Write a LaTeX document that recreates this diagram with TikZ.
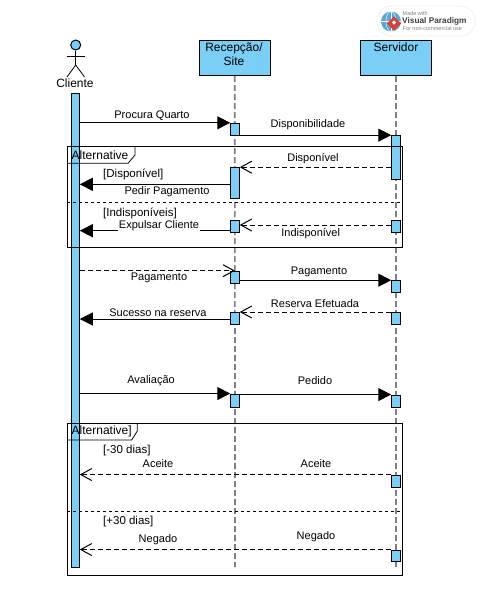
\documentclass[tikz,border=0pt]{standalone}
\usepackage{fontspec}
\setmainfont{Liberation Sans}
\usetikzlibrary{arrows.meta}
\definecolor{vpblue}{HTML}{7BCFF6}
\definecolor{globeblue}{HTML}{5BA7D6}
\definecolor{vpred}{HTML}{D9403A}
\tikzset{
  headbox/.style={draw=black,fill=vpblue,line width=1pt,minimum width=71pt,minimum height=35pt,inner sep=0pt},
  barbox/.style={draw=black,fill=vpblue,line width=1pt,minimum width=8.5pt,inner sep=0pt},
  lifeline/.style={draw=black!50,line width=1.7pt,dash pattern=on 6pt off 3pt},
  syncmsg/.style={line width=1pt,-{Triangle[length=13pt,width=13pt]}},
  replymsg/.style={line width=1pt,dash pattern=on 5pt off 3pt,-{Straight Barb[length=11pt,width=12pt]}},
  lbl/.style={font=\fontsize{11}{12}\selectfont,inner sep=0.5pt,yshift=-1pt},
  guard/.style={font=\fontsize{11.5}{13}\selectfont,inner sep=0pt,anchor=west,yshift=-1pt},
  frametxt/.style={font=\fontsize{12}{13}\selectfont,inner sep=0pt,anchor=west,yshift=-1pt},
}
\begin{document}
\begin{tikzpicture}[x=1pt,y=-1pt]
   \useasboundingbox (0,0) rectangle (479,614);
   % heads
   \node[headbox] (recep) at (234.8,58) {};
   \node[headbox] (serv) at (396,58) {};
   \node[font=\fontsize{12}{14}\selectfont,align=center,inner sep=0pt] (recept) at (234,54.5) {Recepção/\\Site};
   \node[font=\fontsize{12}{14}\selectfont,inner sep=0pt] (servt) at (396,47.5) {Servidor};
   % lifelines
   \coordinate (recepend) at (235,567);
   \coordinate (servend) at (396,567);
   \draw[lifeline] (recep.south) -- (recepend);
   \draw[lifeline] (serv.south) -- (servend);
   % actor
   \node[circle,draw=black,fill=vpblue,line width=1pt,minimum size=10pt,inner sep=0pt] (head) at (75.7,45) {};
   \coordinate (armL) at (66.5,56);
   \coordinate (armR) at (84.5,56);
   \coordinate (hip) at (75.7,65);
   \coordinate (legL) at (67,77);
   \coordinate (legR) at (84.5,77);
   \draw[line width=0.8pt] (head.south) -- (hip);
   \draw[line width=0.8pt] (armL) -- (armR);
   \draw[line width=0.8pt] (legL) -- (hip) -- (legR);
   \node[font=\fontsize{12}{14}\selectfont,inner sep=0pt] (cliente) at (75,83.5) {Cliente};
   % client bar
   \node[barbox,minimum width=7.5pt,minimum height=474pt] (cl) at (75.5,330) {};
   % activation bars
   \node[barbox,minimum height=12.4pt] (r1) at (235,129.5) {};
   \node[barbox,minimum height=44.3pt] (s1) at (396,157.8) {};
   \node[barbox,minimum height=30.6pt] (r2) at (235,183) {};
   \node[barbox,minimum height=11.6pt] (r3) at (235,226.5) {};
   \node[barbox,minimum height=11.6pt] (s2) at (396,226.5) {};
   \node[barbox,minimum height=11.6pt] (r4) at (235,277.5) {};
   \node[barbox,minimum height=11.6pt] (s3) at (396,286.5) {};
   \node[barbox,minimum height=11.6pt] (r5) at (235,318.3) {};
   \node[barbox,minimum height=11.6pt] (s4) at (396,318.3) {};
   \node[barbox,minimum height=13.3pt] (r6) at (235,400.7) {};
   \node[barbox,minimum height=12.3pt] (s5) at (396,401.2) {};
   \node[barbox,minimum height=12.3pt] (s6) at (396,481.2) {};
   \node[barbox,minimum height=11.7pt] (s7) at (396,555.9) {};
   % messages
   \draw[syncmsg] (cl.east |- r1.north) -- (r1.north west);
   \draw[syncmsg] (r1.east |- s1.north) -- (s1.north west);
   \draw[replymsg] (s1.west |- r2.north) -- (r2.north east);
   \draw[syncmsg] (r2.west |- 0,184.3) -- (cl.east |- 0,184.3);
   \draw[replymsg] (s2.west |- 0,225) -- (r3.east |- 0,225);
   \draw[syncmsg] (r3.west |- 0,230.7) -- (cl.east |- 0,230.7);
   \draw[replymsg] (cl.east |- 0,270.7) -- (r4.north |- 0,270.7);
   \draw[syncmsg] (r4.east |- s3.north) -- (s3.north west);
   \draw[replymsg] (s4.north west) -- (r5.north east);
   \draw[syncmsg] (r5.west |- 0,319) -- (cl.east |- 0,319);
   \draw[syncmsg] (cl.east |- r6.north) -- (r6.north west);
   \draw[syncmsg] (r6.east |- s5.north) -- (s5.north west);
   \draw[replymsg] (s6.north west) -- (cl.east |- s6.north);
   \draw[replymsg] (s7.north west) -- (cl.east |- s7.north);
   % message labels
   \node[lbl] (t1) at (152,114.5) {Procura Quarto};
   \node[lbl] (t2) at (308,124) {Disponibilidade};
   \node[lbl] (t3) at (313,158) {Disponível};
   \node[lbl,fill=white] (t4) at (167,191) {Pedir Pagamento};
   \node[lbl,fill=white] (t5) at (159,225) {Expulsar Cliente};
   \node[lbl] (t6) at (310.7,233) {Indisponível};
   \node[lbl] (t7) at (159,277) {Pagamento};
   \node[lbl] (t8) at (319,271) {Pagamento};
   \node[lbl] (t9) at (315,303) {Reserva Efetuada};
   \node[lbl,fill=white] (t10) at (158,312) {Sucesso na reserva};
   \node[lbl] (t11) at (151,379.5) {Avaliação};
   \node[lbl] (t12) at (315,380) {Pedido};
   \node[lbl] (t13) at (158,463) {Aceite};
   \node[lbl] (t14) at (316,463) {Aceite};
   \node[lbl] (t15) at (158,539) {Negado};
   \node[lbl] (t16) at (316,536) {Negado};
   % frames
   \draw[line width=0.8pt] (67.3,146) rectangle (402.7,247.3);
   \draw[line width=0.8pt] (67.3,163.3) -- (128,163.3) -- (135,155) -- (135,146);
   \draw[line width=0.8pt,dashed] (67.3,202.3) -- (402.7,202.3);
   \node[frametxt] (alt1) at (71.5,154) {Alternative};
   \node[guard] (g1) at (103,173) {[Disponível]};
   \node[guard] (g2) at (103,212) {[Indisponíveis]};
   \draw[line width=0.8pt] (67.3,423.3) rectangle (402.7,575.3);
   \draw[line width=0.8pt] (67.3,440) -- (131.7,440) -- (137.3,431) -- (137.3,423.3);
   \draw[line width=0.8pt,dashed] (67.3,511.3) -- (402.7,511.3);
   \node[frametxt] (alt2) at (71.5,430.5) {Alternative]};
   \node[guard] (g3) at (103,450) {[-30 dias]};
   \node[guard] (g4) at (103,521) {[+30 dias]};
   % badge
   \fill[white,draw=black!6,line width=0.8pt,rounded corners=14pt] (377,6) rectangle (475,36);
   \node[circle,fill=globeblue,minimum size=20pt,inner sep=0pt] (globe) at (391,21.5) {};
   \draw[white,line width=0.4pt] (globe.north) -- (globe.south);
   \draw[white,line width=0.4pt] (globe.west) -- (globe.east);
   \draw[white,line width=0.4pt] (globe) ellipse (5 and 10);
   \node[fill=vpred,rotate=45,minimum size=10pt,inner sep=0pt] (mark) at (394,23.5) {};
   \node[fill=white,rotate=45,minimum size=3pt,inner sep=0pt] (markin) at (394,22.5) {};
   \node[anchor=west,inner sep=0pt,text=gray,font=\fontsize{5.5}{6}\selectfont] (vp1) at (402.5,13.5) {Made with};
   \node[anchor=west,inner sep=0pt,text=black!75,font=\fontsize{8.3}{9}\bfseries\selectfont] (vp2) at (402,21) {Visual Paradigm};
   \node[anchor=west,inner sep=0pt,text=gray,font=\fontsize{5.5}{6}\selectfont] (vp3) at (402.5,28.5) {For non-commercial use};
\end{tikzpicture}
\end{document}
